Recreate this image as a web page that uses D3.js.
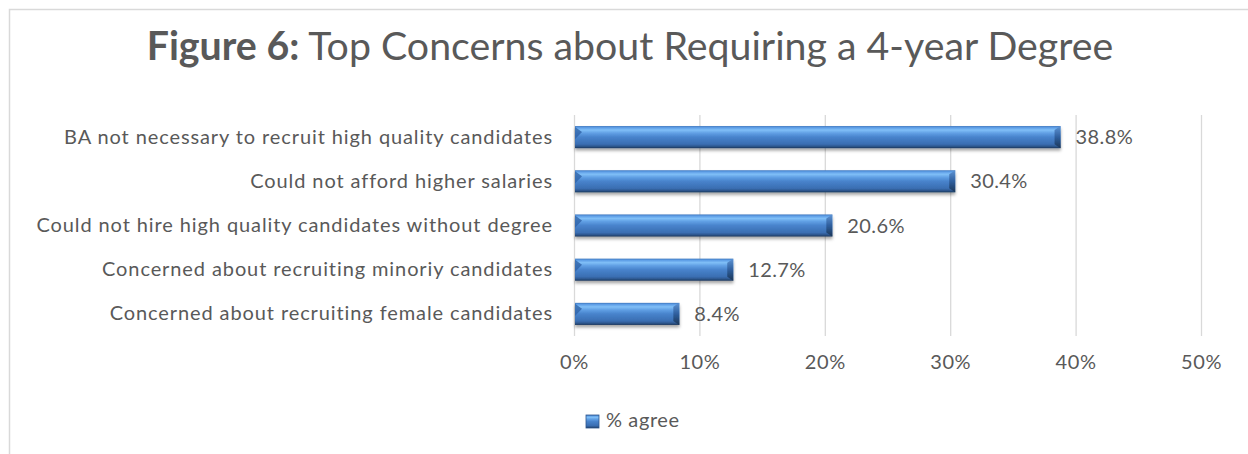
<!DOCTYPE html>
<html>
<head>
<meta charset="utf-8">
<script src="https://cdn.jsdelivr.net/npm/d3@7"></script>
<style>
  html, body { margin: 0; padding: 0; background: #fff; }
  svg { display: block; }
  text { font-family: Lato, "Open Sans", sans-serif; fill: #595959; }
</style>
</head>
<body>
<svg id="chart" width="1248" height="454"></svg>
<script>
// Survey results: share of respondents agreeing with each concern
const categories = [
  "BA not necessary to recruit high quality candidates",
  "Could not afford higher salaries",
  "Could not hire high quality candidates without degree",
  "Concerned about recruiting minoriy candidates",
  "Concerned about recruiting female candidates"
];
const agreeValues = [0.388, 0.304, 0.206, 0.127, 0.084];
const tickValues = [0, 0.1, 0.2, 0.3, 0.4, 0.5];
const seriesName = "% agree";

const svg = d3.select("#chart");
const W = 1248, H = 454;
const plot = { left: 574, right: 1201, top: 115, bottom: 336 };
const FONT = "Lato, 'Open Sans', sans-serif";

// chart-area frame (runs off the right and bottom edges)
svg.append("rect")
  .attr("x", 9.5).attr("y", 9.5)
  .attr("width", W + 20).attr("height", H + 20)
  .attr("fill", "none").attr("stroke", "#d9d9d9").attr("stroke-width", 1.5);

// bevelled bar fill
const defs = svg.append("defs");
const grad = defs.append("linearGradient").attr("id", "barFill")
  .attr("x1", 0).attr("y1", 0).attr("x2", 0).attr("y2", 1);
[[0, "#3f77bd"], [0.07, "#5d9de6"], [0.18, "#80bff7"], [0.32, "#609fe4"],
 [0.5, "#4883cc"], [0.82, "#3a6eb2"], [0.92, "#2d568d"], [1, "#1c385c"]]
  .forEach(([o, c]) => grad.append("stop").attr("offset", o).attr("stop-color", c));
const capGrad = defs.append("linearGradient").attr("id", "capFill")
  .attr("x1", 0).attr("y1", 0).attr("x2", 0).attr("y2", 1);
[[0, "#5f94d4"], [0.5, "#2f5f9e"], [1, "#1b3656"]]
  .forEach(([o, c]) => capGrad.append("stop").attr("offset", o).attr("stop-color", c));
const shadow = defs.append("filter").attr("id", "barShadow")
  .attr("x", "-5%").attr("y", "-30%").attr("width", "110%").attr("height", "180%");
shadow.append("feDropShadow").attr("dx", 0).attr("dy", 2.5)
  .attr("stdDeviation", 1.6).attr("flood-color", "#000").attr("flood-opacity", 0.35);

const x = d3.scaleLinear().domain([0, 0.5]).range([plot.left, plot.right]);
const y = d3.scaleBand().domain(categories).range([plot.top, plot.bottom])
  .paddingInner(0.5).paddingOuter(0.25);

// vertical gridlines with percent labels
const xAxis = d3.axisBottom(x).tickValues(tickValues)
  .tickFormat(d3.format(".0%")).tickSize(plot.bottom - plot.top).tickPadding(19);
const gx = svg.append("g").attr("transform", `translate(0,${plot.top})`).call(xAxis);
gx.select(".domain").remove();
gx.selectAll(".tick line").attr("stroke", "#d9d9d9").attr("stroke-width", 1.3);
gx.selectAll(".tick text").attr("font-size", 20).attr("fill", "#595959")
  .style("font-family", FONT).style("letter-spacing", "0.6px");

// category labels
const gy = svg.append("g").attr("transform", `translate(${plot.left},0)`)
  .call(d3.axisLeft(y).tickSize(0).tickPadding(21));
gy.select(".domain").remove();
gy.selectAll(".tick text").attr("font-size", 20).attr("fill", "#595959")
  .style("font-family", FONT).style("letter-spacing", "0.9px");

// bars
const rows = categories.map((c, i) => ({ c, v: agreeValues[i] }));
const bars = svg.append("g").selectAll("g.bar")
  .data(rows)
  .join("g").attr("class", "bar").attr("filter", "url(#barShadow)");
bars.append("rect")
  .attr("x", x(0) + 1).attr("y", d => y(d.c))
  .attr("width", d => x(d.v) - x(0) - 1).attr("height", y.bandwidth())
  .attr("fill", "url(#barFill)");
// right-end bevel
bars.append("path").attr("fill", "url(#capFill)")
  .attr("d", d => {
    const x1 = x(d.v), y0 = y(d.c), h = y.bandwidth();
    return `M${x1 - 6},${y0 + 4} L${x1},${y0} L${x1},${y0 + h} L${x1 - 6},${y0 + h - 4} Z`;
  });
// left-end bevel notch
bars.append("path").attr("fill", "#2f63a8").attr("opacity", 0.8)
  .attr("d", d => {
    const x0 = x(0) + 1, y0 = y(d.c), h = y.bandwidth();
    return `M${x0},${y0 + 1} L${x0 + 7},${y0 + 6} L${x0},${y0 + h * 0.6} Z`;
  });

// value labels
svg.append("g").selectAll("text")
  .data(rows)
  .join("text")
  .attr("x", d => x(d.v) + 15).attr("y", d => y(d.c) + y.bandwidth() / 2)
  .attr("dy", "0.35em").attr("font-size", 20).style("letter-spacing", "0.4px")
  .text(d => d3.format(".1%")(d.v));

// title
const title = svg.append("text").attr("x", 630).attr("y", 60)
  .attr("text-anchor", "middle").attr("font-size", 39.3);
title.append("tspan").attr("font-weight", "bold").text("Figure 6:");
title.append("tspan").text(" Top Concerns about Requiring a 4-year Degree");

// legend
const lg = svg.append("g").attr("transform", "translate(586,415)");
lg.append("rect").attr("width", 13).attr("height", 13)
  .attr("fill", "url(#barFill)").attr("stroke", "#2d568d").attr("stroke-width", 0.8);
lg.append("text").attr("x", 20).attr("y", 12).attr("font-size", 20)
  .style("letter-spacing", "0.6px").text(seriesName);
</script>
</body>
</html>
